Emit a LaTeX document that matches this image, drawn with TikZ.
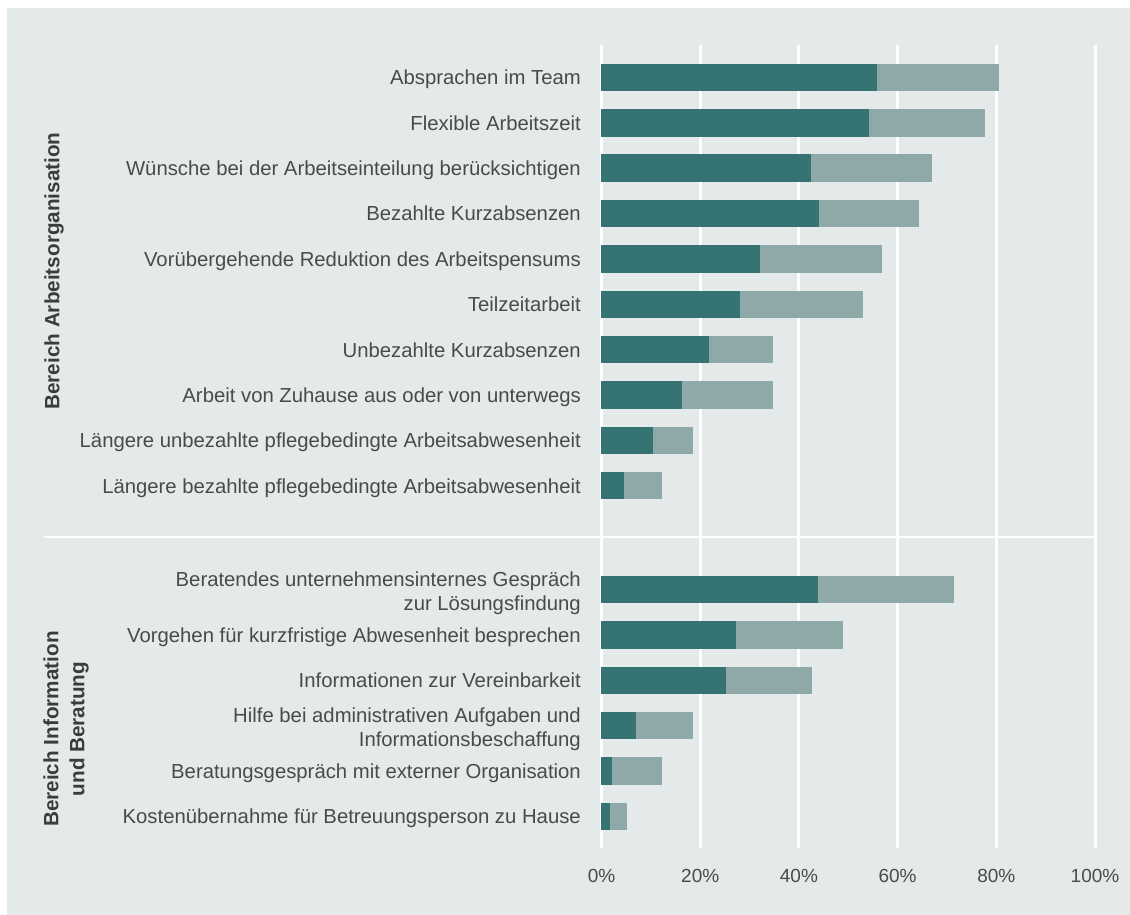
\documentclass[tikz,border=0pt]{standalone}
\usepackage{fontspec}
\setmainfont{Liberation Sans}
\definecolor{bg}{HTML}{E4EAEA}
\definecolor{darkteal}{HTML}{357473}
\definecolor{lightteal}{HTML}{8FA9A9}
\definecolor{txt}{HTML}{4A4A4A}
\definecolor{cattxt}{HTML}{3C3C3C}
\tikzset{
  lbl/.style={anchor=east, inner sep=0pt, text=txt, align=right,
    font=\fontsize{20.3}{24}\selectfont, text height=19pt, text depth=4.2pt},
  lbltwo/.style={anchor=east, inner sep=0pt, text=txt, align=right,
    font=\fontsize{20.3}{24}\selectfont},
  ticklbl/.style={anchor=center, inner sep=0pt, text=txt,
    font=\fontsize{19}{23}\selectfont},
  catlbl/.style={rotate=90, anchor=center, inner sep=0pt, text=cattxt, align=center,
    font=\fontsize{20.7}{26}\selectfont\bfseries},
  darkbar/.style={fill=darkteal},
  lightbar/.style={fill=lightteal},
  gridln/.style={draw=white, line width=3pt},
  sepln/.style={draw=white, line width=2.5pt}
}
\begin{document}
\begin{tikzpicture}[x=1pt,y=-1pt]
\useasboundingbox (0,0) rectangle (1130,915);
\fill[bg] (7,8) rectangle (1130,915);
% grid
\foreach \i in {0,...,5} {
  \draw[gridln] ({601.5+98.7*\i},45) -- ({601.5+98.7*\i},848);
}
% separator
\coordinate (sepL) at (44,537);
\coordinate (sepR) at (1096,537);
\draw[sepln] (sepL) -- (sepR);
% bars
\foreach \y/\d/\l in {
  77.5/877/999, 122.85/869/985, 168.2/811/932, 213.55/819/919,
  258.9/760/882, 304.25/740/863, 349.6/709/773, 394.95/682/773,
  440.3/653/693, 485.65/624/662,
  589.5/818/954, 634.9/736/843, 680.3/726/812, 725.7/636/693,
  771.1/612/662, 816.5/610/627} {
  \fill[lightbar] (601,{\y-13.75}) rectangle (\l,{\y+13.75});
  \fill[darkbar] (601,{\y-13.75}) rectangle (\d,{\y+13.75});
}
% labels
\node[lbl] (a1) at (581,77.5) {Absprachen im Team};
\node[lbl] (a2) at (581,122.85) {Flexible Arbeitszeit};
\node[lbl] (a3) at (581,168.2) {Wünsche bei der Arbeitseinteilung berücksichtigen};
\node[lbl] (a4) at (581,213.55) {Bezahlte Kurzabsenzen};
\node[lbl] (a5) at (581,258.9) {Vorübergehende Reduktion des Arbeitspensums};
\node[lbl] (a6) at (581,304.25) {Teilzeitarbeit};
\node[lbl] (a7) at (581,349.6) {Unbezahlte Kurzabsenzen};
\node[lbl] (a8) at (581,394.95) {Arbeit von Zuhause aus oder von unterwegs};
\node[lbl] (a9) at (581,440.3) {Längere unbezahlte pflegebedingte Arbeitsabwesenheit};
\node[lbl] (a10) at (581,485.65) {Längere bezahlte pflegebedingte Arbeitsabwesenheit};
\node[lbltwo] (b1) at (581,593) {Beratendes unternehmensinternes Gespräch\\zur Lösungsfindung};
\node[lbl] (b2) at (581,634.9) {Vorgehen für kurzfristige Abwesenheit besprechen};
\node[lbl] (b3) at (581,680.3) {Informationen zur Vereinbarkeit};
\node[lbltwo] (b4) at (581,729.5) {Hilfe bei administrativen Aufgaben und\\Informationsbeschaffung};
\node[lbl] (b5) at (581,771.1) {Beratungsgespräch mit externer Organisation};
\node[lbl] (b6) at (581,816.5) {Kostenübernahme für Betreuungsperson zu Hause};
% category labels
\node[catlbl] (c1) at (54,271) {Bereich Arbeitsorganisation};
\node[catlbl] (c2) at (66,729) {Bereich Information\\und Beratung};
% ticks
\foreach \i/\t in {0/0\%,1/20\%,2/40\%,3/60\%,4/80\%,5/100\%} {
  \node[ticklbl] (t\i) at ({601.5+98.7*\i},876) {\t};
}
\end{tikzpicture}
\end{document}
